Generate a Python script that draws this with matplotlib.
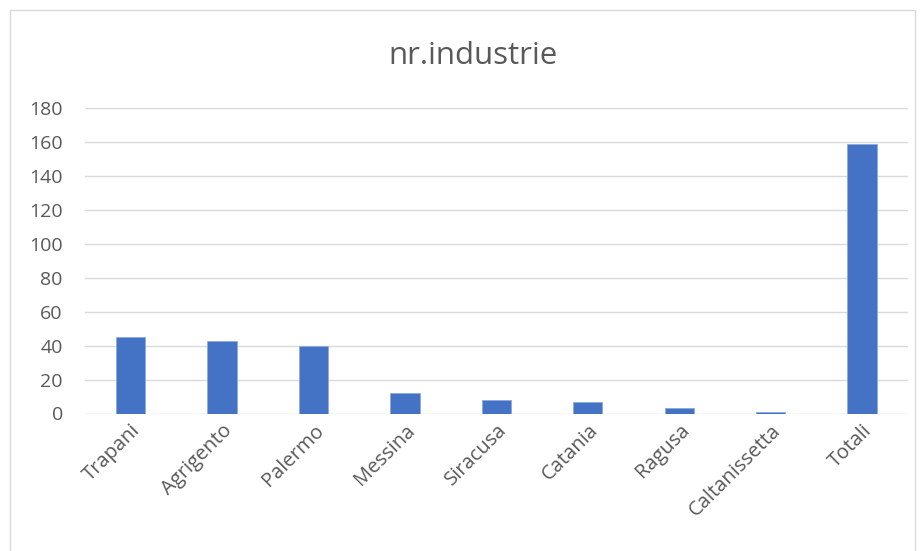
import matplotlib
matplotlib.use("Agg")
import matplotlib.pyplot as plt
from matplotlib.patches import Rectangle
from matplotlib.transforms import ScaledTranslation

categories = ["Trapani", "Agrigento", "Palermo", "Messina", "Siracusa",
              "Catania", "Ragusa", "Caltanissetta", "Totali"]
values = [45, 43, 40, 12, 8, 7, 3, 1, 159]
yticks = [0, 20, 40, 60, 80, 100, 120, 140, 160, 180]
title = "nr.industrie"

plt.rcParams['font.family'] = ['Open Sans', 'DejaVu Sans']
txt = '#595959'

fig = plt.figure(figsize=(9.24, 5.51), dpi=100)
fig.patches.append(Rectangle((9.5/924, -0.01), (915-9.5)/924, 1 - 10/551 + 0.01,
                             transform=fig.transFigure, fill=False,
                             edgecolor='#d9d9d9', linewidth=1))
ax = fig.add_axes([85/924, 1-413.5/551, (907.7-85)/924, (413.5-108.3)/551])
x = list(range(len(categories)))
ax.bar(x, values, width=0.32, color='#4472C4', edgecolor='#8fa9dc', linewidth=0.6, zorder=3)
ax.set_xlim(-0.5, len(categories)-0.5)
ax.set_ylim(0, 180)
ax.set_yticks(yticks)
ax.set_yticklabels([str(v) for v in yticks], fontsize=14, color=txt)
ax.grid(axis='y', color='#d9d9d9', linewidth=1, zorder=0)
ax.set_xticks(x)
ax.set_xticklabels(categories, rotation=45, ha='right', rotation_mode='anchor',
                   fontsize=14.5, color=txt)
offset = ScaledTranslation(-4/100, 0, fig.dpi_scale_trans)
for lab in ax.get_xticklabels():
    lab.set_transform(lab.get_transform() + offset)
for s in ax.spines.values():
    s.set_visible(False)
ax.tick_params(axis='both', length=0)
ax.tick_params(axis='y', pad=16)
ax.tick_params(axis='x', pad=5)
fig.text(473/924, 1-56/551, title, ha='center', va='center', fontsize=22.5, color=txt)
fig.savefig("out.png", dpi=100)
